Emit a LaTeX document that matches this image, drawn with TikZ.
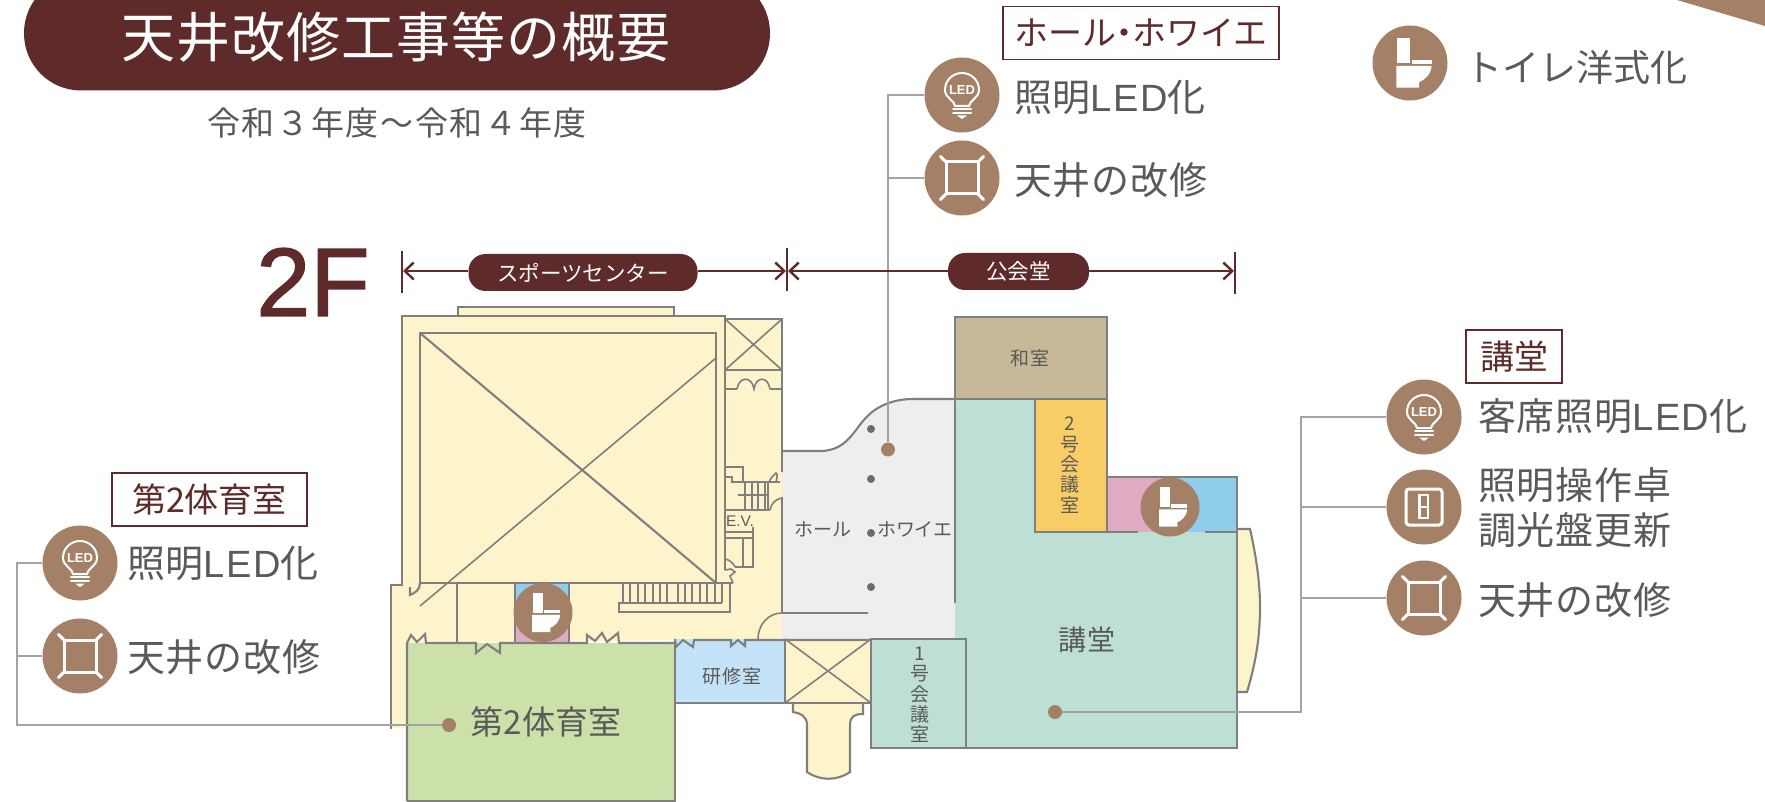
\documentclass[tikz,border=0pt]{standalone}
\usepackage{fontspec}
\usetikzlibrary{arrows.meta}
\setmainfont{Noto Sans CJK JP}
\newfontfamily\latinfont{Liberation Sans}
\newfontfamily\bigfont[FakeBold=1.5]{Liberation Sans}
\newcommand{\wideled}{{\latinfont\addfontfeature{LetterSpace=4}LED}}
\definecolor{dark}{HTML}{5E2B2A}
\definecolor{brownc}{HTML}{A38066}
\definecolor{txtgray}{HTML}{5A5A5A}
\definecolor{wall}{HTML}{7F7F7F}
\definecolor{connc}{HTML}{A3A3A3}
\definecolor{creamc}{HTML}{FEF4CC}
\definecolor{greyf}{HTML}{EEEEEE}
\definecolor{greenf}{HTML}{CBE1A9}
\definecolor{tealf}{HTML}{BEDFD6}
\definecolor{bluef}{HTML}{C5E3F8}
\definecolor{tanf}{HTML}{C7B997}
\definecolor{yellowf}{HTML}{F9CD66}
\definecolor{pinkf}{HTML}{E0ABC2}
\definecolor{skyf}{HTML}{8FCDEB}
\tikzset{
  wl/.style={draw=wall,line width=2.1pt,line join=miter},
  thin wl/.style={draw=wall,line width=1.6pt},
  conn/.style={draw=connc,line width=1.8pt},
  dimline/.style={draw=dark,line width=2.8pt},
  dimtip/.style={-{Straight Barb[length=9pt,width=17pt,line width=2.4pt]}},
  icon/.style={circle,fill=brownc,minimum size=#1,inner sep=0pt},
  pdot/.style={circle,fill=brownc,minimum size=14pt,inner sep=0pt},
  cdot/.style={circle,fill=wall!85!black,minimum size=8pt,inner sep=0pt},
  lab/.style 2 args={font=\fontsize{#1}{#1}\selectfont\addfontfeature{LetterSpace=#2},text=txtgray,inner sep=0pt,text height=.88*#1 pt,text depth=.12*#1 pt},
  boxlab/.style={draw=dark,line width=1.8pt,fill=white,minimum height=53pt,inner sep=0pt},
  vlab/.style={font=\fontsize{19}{20.3}\selectfont,text=txtgray,align=center,inner sep=0pt},
  pill/.style={fill=dark,rounded corners=17pt,text=white,inner sep=0pt,font=\fontsize{21.5}{22}\selectfont},
  ic/.style={white,line width=3pt,line cap=round},
}
\newcommand{\toilicon}[3]{%
  \begin{scope}[shift={(#1,#2)},scale=#3]
    \fill[white] (-10.3,-20) rectangle (-0.3,0.3);
    \fill[white] (1.3,-2.7) rectangle (17.3,0.7);
    \fill[white] (-11,2.3) -- (17.3,2.3) .. controls (17,9) and (11,14) .. (7.3,15.3) -- (7.3,19.7) -- (-11,19.7) -- cycle;
  \end{scope}}
\newcommand{\ledicon}[2]{%
  \begin{scope}[shift={(#1,#2)}]
    \draw[ic,line width=2pt] (-7,11) .. controls (-7,6) and (-17,3) .. (-17,-5) .. controls (-17,-15) and (-9,-22) .. (0,-22) .. controls (9,-22) and (17,-15) .. (17,-5) .. controls (17,3) and (7,6) .. (7,11) -- cycle;
    \draw[ic,line width=2pt] (-9,14) -- (9,14) (-9,18) -- (9,18);
    \fill[white] (-5,20.5) -- (5,20.5) -- (0,24) -- cycle;
    \node[white,inner sep=0pt,font=\fontsize{13}{13}\selectfont\latinfont\bfseries] at (0,-5) {LED};
  \end{scope}}
\newcommand{\ceilicon}[2]{%
  \begin{scope}[shift={(#1,#2)}]
    \draw[ic,line cap=butt] (-16,-16) rectangle (16,16);
    \draw[ic] (-16,-16) -- (-21.5,-21.5) (16,-16) -- (21.5,-21.5) (-16,16) -- (-21.5,21.5) (16,16) -- (21.5,21.5);
  \end{scope}}
\newcommand{\dimicon}[2]{%
  \begin{scope}[shift={(#1,#2)}]
    \draw[ic,rounded corners=3pt] (-18,-18) rectangle (18,18);
    \draw[ic,line width=2.2pt,line cap=butt] (-4.5,-12) rectangle (4,11) (-4.5,0) -- (4,0);
  \end{scope}}
\begin{document}
\begin{tikzpicture}[x=1pt,y=-1pt]
\useasboundingbox (0,0) rectangle (1765,802);
\clip (0,0) rectangle (1765,802);
\fill[white] (0,0) rectangle (1765,802);
% corner
\fill[brownc] (1677,0) -- (1765,0) -- (1765,26) -- cycle;
% title
\fill[dark,rounded corners=57pt] (24,-24) rectangle (770,90.5);
\node[lab={54}{2},text=white] (title) at (396,37) {天井改修工事等の概要};
\node[lab={33}{5}] (sub) at (397,123) {令和３年度～令和４年度};
\node[font=\fontsize{97}{97}\bigfont,text=dark,inner sep=0pt] (twoF) at (313,282) {2F};
% ---------- fills
\fill[creamc] (458,307) rectangle (674,316);
\fill[creamc] (402,316) -- (725,316) -- (725,319) -- (782,319) -- (782,639) -- (407,643) -- (407,728) -- (391,728) -- (391,585) -- (402,585) -- cycle;
\fill[greyf] (782,451) -- (820,451) .. controls (850,451) and (855,425) .. (872,412) .. controls (885,402) and (900,399) .. (913,399) -- (955,399) -- (955,639) -- (782,639) -- cycle;
\fill[tealf] (955,399) -- (1035,399) -- (1035,532) -- (1237,532) -- (1237,748) -- (955,748) -- cycle;
\fill[pinkf] (1107,477) rectangle (1172,532);
\fill[skyf] (1172,477) rectangle (1237,532);
\fill[skyf] (515,583) rectangle (569,612);
\fill[pinkf] (515,612) rectangle (569,643);
\fill[tanf] (955,317) rectangle (1107,399);
\fill[yellowf] (1035,399) rectangle (1107,532);
\fill[greenf] (407,643) rectangle (675,801);
\fill[bluef] (675,639) rectangle (785,703);
\fill[creamc] (785,639) rectangle (871,703);
\fill[tealf] (871,639) rectangle (966,748);
\fill[creamc] (793,703) -- (793,712) .. controls (800,713) and (807,716) .. (807,725) -- (807,772) .. controls (820,781) and (837,781) .. (850,772) -- (850,725) .. controls (850,716) and (855,714) .. (863,714) -- (863,703) -- cycle;
\fill[creamc] (1237,529) -- (1250,529) .. controls (1257,560) and (1260,585) .. (1260,607) .. controls (1260,640) and (1255,665) .. (1247,692) -- (1237,692) -- cycle;
% ---------- walls: sports centre
\draw[wl] (458,316) -- (458,307) -- (674,307) -- (674,316);
\draw[wl] (391,729) -- (391,585) -- (402,585) -- (402,316) -- (725,316) -- (725,570);
\draw[wl] (725,319) -- (782,319) -- (782,472);
\draw[wl] (420,333) rectangle (716,583);
\draw[wl] (420,333) -- (716,583);
\draw[thin wl] (716,358) -- (420,606);
\draw[wl] (420,583) -- (733,583);
\draw[wl] (420,583) .. controls (420,590) and (415,593) .. (410,595) -- (410,587);
\draw[wl] (457,583) -- (457,643);
\draw[wl] (515,583) -- (515,643) (569,583) -- (569,643);
\draw[thin wl] (725,319) -- (782,370) (782,319) -- (725,370);
\draw[wl] (725,370) -- (782,370);
% door upper
\draw[thin wl] (725,389) -- (737,389) (770,389) -- (782,389);
\draw[thin wl] (737,389) .. controls (739,376) and (752,376) .. (754,389) .. controls (756,376) and (768,376) .. (770,389);
% stairs right
\draw[thin wl] (725,467) -- (743,467) -- (743,482) -- (732,482) -- (732,477) -- (725,477);
\draw[thin wl] (743,482) -- (768,482) (738,495) -- (768,495) (725,510) -- (770,510);
\foreach \x in {745,752,758,765,768} \draw[thin wl] (\x,482) -- (\x,510);
\draw[thin wl] (768,482) -- (780,482) (780,482) -- (776,482) .. controls (777,478) and (778,474) .. (776,473) .. controls (773,475) and (771,478) .. (769,482);
\draw[thin wl] (770,510) .. controls (771,503) and (776,499) .. (782,498) -- (782,613);
% EV
\node[font=\fontsize{15.5}{16}\selectfont\latinfont,text=txtgray,inner sep=0pt] (ev) at (740,521) {E.V.};
\draw[thin wl] (753,527) -- (753,567) -- (735,567);
\draw[thin wl] (725,532) -- (753,532) (725,538) -- (753,538) (743,538) -- (743,567);
\draw[thin wl] (725,559) .. controls (730,560) and (733,563) .. (735,567);
\draw[thin wl] (725,570) -- (731,569) -- (735,572) -- (730,576) -- (733,583);
% stairs bottom
\foreach \x in {623,630,638,645,653,660,667,678,685,692,700,707,715,722}
  \draw[thin wl] (\x,583) -- (\x,603);
\draw[thin wl] (730,583) -- (730,612) -- (619,612) -- (619,603) -- (722,603);
% green top with door notches
\draw[wl] (407,801) -- (407,643) -- (411,635) -- (417,642) -- (425,634) -- (426,643) -- (476,643) -- (476,653) -- (487,644) -- (500,653) -- (500,643) -- (587,643) -- (587,635) -- (595,641) -- (602,633) -- (607,642) -- (618,633) -- (619,643) -- (675,643);
\draw[wl] (407,801) -- (675,801) -- (675,640);
% kenshu
\draw[wl] (675,639) -- (676,647) -- (683,640) -- (693,647) -- (694,640) -- (731,640) -- (731,646) -- (738,640) -- (745,646) -- (745,640) -- (871,640);
\draw[wl] (675,703) -- (871,703);
\draw[wl] (785,639) -- (785,703);
\draw[thin wl] (785,639) -- (871,703) (871,639) -- (785,703);
\draw[wl] (793,703) -- (793,712) .. controls (800,713) and (807,716) .. (807,725) -- (807,772) .. controls (820,781) and (837,781) .. (850,772) -- (850,725) .. controls (850,716) and (855,714) .. (863,714) -- (863,703);
% hall
\draw[wl] (782,451) -- (820,451) .. controls (850,451) and (855,425) .. (872,412) .. controls (885,402) and (900,399) .. (913,399) -- (955,399);
\draw[thin wl] (868,613) -- (782,613) .. controls (768,613) and (758,625) .. (758,639);
% kodo
\draw[wl] (955,603) -- (955,317) -- (1107,317) -- (1107,532);
\draw[wl] (955,399) -- (1107,399);
\draw[wl] (1035,399) -- (1035,532) -- (1138,532) (1205,532) -- (1237,532);
\draw[wl] (1107,477) -- (1237,477) -- (1237,748) -- (871,748) -- (871,639) -- (966,639) -- (966,748);
\draw[wl] (1237,529) -- (1250,529) .. controls (1257,560) and (1260,585) .. (1260,607) .. controls (1260,640) and (1255,665) .. (1247,692) -- (1237,692);
% columns
\foreach \n/\y in {a/429,b/479,c/533,d/587} \node[cdot] (col\n) at (871,\y) {};
% room labels
\node[lab={19}{3}] (washitsu) at (1030,358) {和室};
\node[vlab] (rm2) at (1070,465) {2\\号\\会\\議\\室};
\node[vlab] (rm1) at (920,695) {1\\号\\会\\議\\室};
\node[lab={19}{0}] (hall) at (823,529) {ホール};
\node[lab={19}{-3}] (foyer) at (915,529) {ホワイエ};
\node[lab={19}{3}] (kenshu) at (732,676) {研修室};
\node[lab={28}{3}] (kodo) at (1087,640) {講堂};
\node[lab={33}{0}] (gym) at (546,722) {第2体育室};
% toilet icons in plan
\node[icon=59pt] (toilG) at (543,612.5) {};
\toilicon{543}{612.5}{1}
\node[icon=59pt] (toilK) at (1170,507) {};
\toilicon{1170}{507}{1}
% dots
\node[pdot] (dotH) at (888,449.5) {};
\node[pdot] (dotG) at (449,725) {};
\node[pdot] (dotK) at (1055,712) {};
% icons
\node[icon=75pt] (icH1) at (962,95) {};
\node[icon=75pt] (icH2) at (962,178) {};
\node[icon=75pt] (icT) at (1410,63) {};
\node[icon=75pt] (icG1) at (80,563) {};
\node[icon=75pt] (icG2) at (80,656) {};
\node[icon=75pt] (icK1) at (1424,417) {};
\node[icon=75pt] (icK2) at (1424,507) {};
\node[icon=75pt] (icK3) at (1424,598) {};
\ledicon{962}{95}
\ceilicon{962}{178}
\toilicon{1410}{63}{1.25}
\ledicon{80}{563}
\ceilicon{80}{656}
\ledicon{1424}{417}
\dimicon{1424}{507}
\ceilicon{1424}{598}
% connectors
\coordinate (jL) at (17,656);
\coordinate (jR) at (1301,507);
\draw[conn] (dotH.north) |- (icH1.west);
\draw[conn] (icH2.west) -- (icH2.west -| dotH);
\draw[conn] (dotG.west) -- (dotG.west -| jL) |- (icG1.west);
\draw[conn] (icG2.west) -- (icG2.west -| jL);
\draw[conn] (dotK.east) -- (dotK.east -| jR) |- (icK1.west);
\draw[conn] (icK2.west) -- (icK2.west -| jR);
\draw[conn] (icK3.west) -- (icK3.west -| jR);
% dimension bars
\node[pill,minimum width=229pt,minimum height=37pt] (pS) at (583,272.5) {スポーツセンター};
\node[pill,minimum width=141pt,minimum height=37pt] (pK) at (1018.5,271.5) {公会堂};
\coordinate (tLt) at (402,251); \coordinate (tLb) at (402,293);
\coordinate (tMt) at (787,248); \coordinate (tMb) at (787,291);
\coordinate (tRt) at (1235,252); \coordinate (tRb) at (1235,294);
\coordinate (tL) at (403,271); \coordinate (tML) at (786,271); \coordinate (tMR) at (788,271); \coordinate (tR) at (1234,271);
\draw[dimline] (tLt) -- (tLb);
\draw[dimline] (tMt) -- (tMb);
\draw[dimline] (tRt) -- (tRb);
\draw[dimline,dimtip] (pS.west |- tL) -- (tL);
\draw[dimline,dimtip] (pS.east |- tML) -- (tML);
\draw[dimline,dimtip] (pK.west |- tMR) -- (tMR);
\draw[dimline,dimtip] (pK.east |- tR) -- (tR);
% boxed headings
\node[boxlab,minimum width=195pt] (bG) at (209.5,499.5) {};
\node[lab={34}{0},text=dark] (bGt) at (bG) {第2体育室};
\node[boxlab,minimum width=276pt] (bH) at (1141,33) {};
\node[lab={34}{0},text=dark] (bHt) at (bH) {ホール\kern-9pt・\kern-9pt ホワイエ};
\node[boxlab,minimum width=96pt] (bK) at (1514,356.5) {};
\node[lab={34}{0},text=dark] (bKt) at (bK) {講堂};
% item labels
\node[lab={38}{2},anchor=west] (tH1) at (1014,97) {照明\wideled 化};
\node[lab={38}{2},anchor=west] (tH2) at (1014,180) {天井の改修};
\node[lab={37}{0},anchor=west] (tT) at (1465,67) {トイレ洋式化};
\node[lab={38}{2},anchor=west] (tG1) at (127,563) {照明\wideled 化};
\node[lab={38}{2},anchor=west] (tG2) at (127,657) {天井の改修};
\node[lab={38}{2},anchor=west] (tK1) at (1478,416) {客席照明\wideled 化};
\node[lab={38}{2},anchor=west] (tK2a) at (1478,485) {照明操作卓};
\node[lab={38}{2},anchor=west] (tK2b) at (1478,530) {調光盤更新};
\node[lab={38}{2},anchor=west] (tK3) at (1478,600) {天井の改修};
\end{tikzpicture}
\end{document}
